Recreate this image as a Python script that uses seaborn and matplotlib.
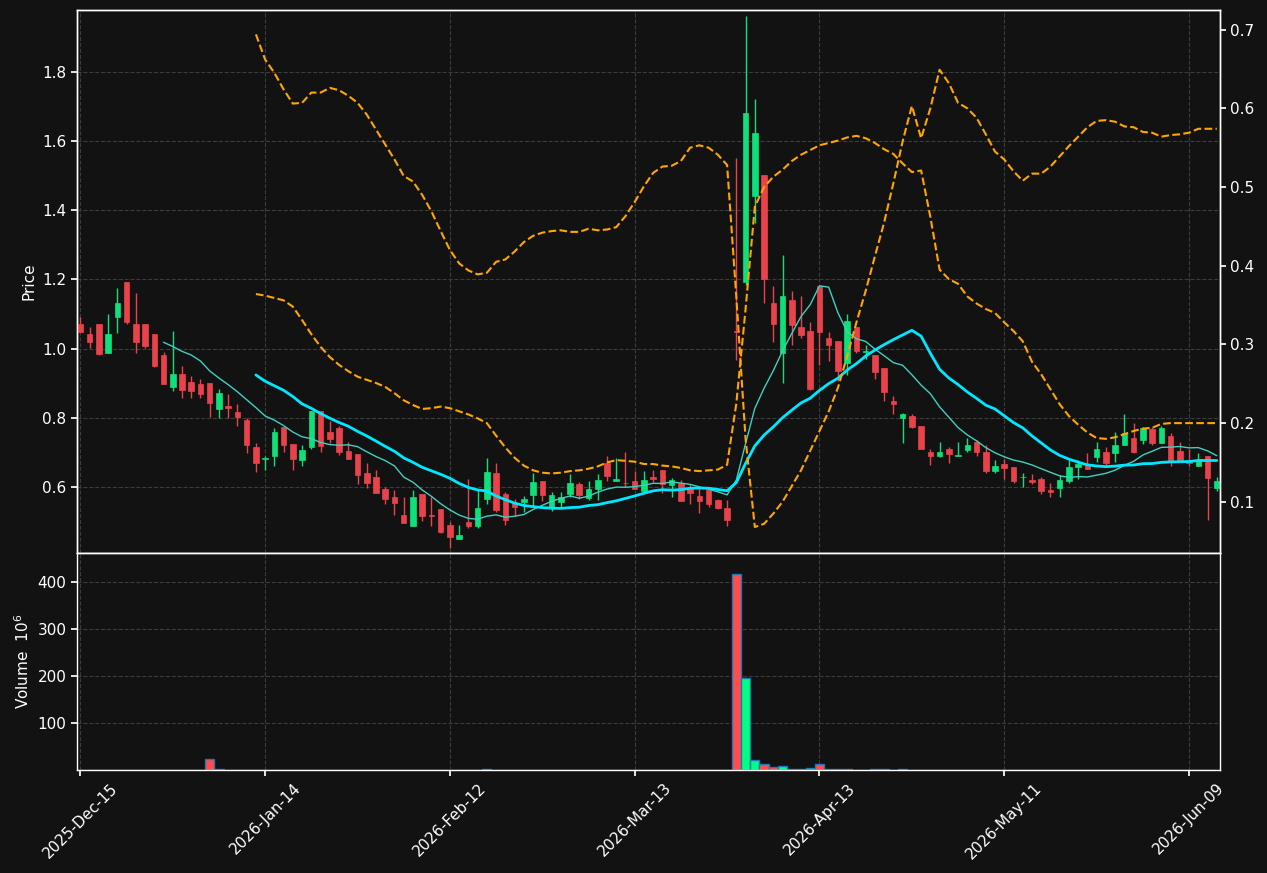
import numpy as np
import pandas as pd
import matplotlib
matplotlib.use('Agg')
import matplotlib.pyplot as plt
import seaborn as sns

# daily OHLC (trading-day index 0..123)
opens = [1.071, 1.042, 1.071, 0.988, 1.090, 1.193, 1.071, 1.071, 1.042, 0.982,
         0.890, 0.927, 0.904, 0.898, 0.901, 0.824, 0.835, 0.817, 0.794, 0.716,
         0.682, 0.688, 0.773, 0.724, 0.679, 0.716, 0.820, 0.759, 0.770, 0.704,
         0.695, 0.640, 0.629, 0.594, 0.571, 0.519, 0.488, 0.580, 0.518, 0.536,
         0.490, 0.450, 0.499, 0.488, 0.565, 0.640, 0.580, 0.552, 0.557, 0.577,
         0.617, 0.540, 0.557, 0.580, 0.609, 0.569, 0.594, 0.668, 0.617, 0.612,
         0.617, 0.588, 0.629, 0.649, 0.606, 0.611, 0.596, 0.574, 0.592, 0.562,
         0.539, 1.052, 1.191, 1.440, 1.502, 1.132, 0.988, 1.141, 1.062, 1.051,
         1.181, 1.030, 1.022, 0.959, 1.063, 0.990, 0.982, 0.944, 0.849, 0.800,
         0.805, 0.776, 0.700, 0.688, 0.710, 0.688, 0.707, 0.730, 0.700, 0.646,
         0.666, 0.658, 0.628, 0.621, 0.623, 0.591, 0.598, 0.617, 0.657, 0.666,
         0.687, 0.701, 0.699, 0.720, 0.741, 0.736, 0.768, 0.728, 0.747, 0.704,
         0.676, 0.659, 0.690, 0.598]
highs = [1.092, 1.062, 1.071, 1.099, 1.174, 1.193, 1.160, 1.071, 1.042, 0.989,
         1.051, 0.949, 0.920, 0.912, 0.901, 0.883, 0.868, 0.839, 0.798, 0.726,
         0.688, 0.770, 0.773, 0.724, 0.720, 0.820, 0.820, 0.790, 0.776, 0.729,
         0.695, 0.669, 0.649, 0.601, 0.592, 0.572, 0.590, 0.580, 0.572, 0.536,
         0.498, 0.489, 0.623, 0.591, 0.683, 0.668, 0.584, 0.566, 0.575, 0.639,
         0.617, 0.584, 0.584, 0.638, 0.615, 0.616, 0.638, 0.688, 0.683, 0.700,
         0.647, 0.647, 0.648, 0.649, 0.625, 0.620, 0.609, 0.596, 0.599, 0.565,
         0.562, 1.550, 1.962, 1.721, 1.502, 1.181, 1.271, 1.167, 1.152, 1.078,
         1.181, 1.049, 1.022, 1.100, 1.063, 1.009, 0.982, 0.944, 0.864, 0.813,
         0.810, 0.776, 0.710, 0.729, 0.716, 0.729, 0.742, 0.736, 0.720, 0.678,
         0.680, 0.658, 0.640, 0.637, 0.630, 0.610, 0.634, 0.680, 0.678, 0.697,
         0.729, 0.714, 0.760, 0.810, 0.784, 0.774, 0.774, 0.776, 0.755, 0.729,
         0.710, 0.697, 0.690, 0.628]
lows = [1.049, 1.001, 0.980, 0.988, 1.044, 1.070, 0.988, 1.001, 0.948, 0.898,
        0.878, 0.856, 0.858, 0.858, 0.803, 0.798, 0.798, 0.777, 0.697, 0.644,
        0.649, 0.659, 0.700, 0.648, 0.659, 0.709, 0.702, 0.726, 0.691, 0.682,
        0.608, 0.598, 0.581, 0.550, 0.518, 0.496, 0.488, 0.500, 0.488, 0.467,
        0.423, 0.448, 0.480, 0.480, 0.550, 0.528, 0.490, 0.517, 0.526, 0.545,
        0.560, 0.530, 0.542, 0.570, 0.565, 0.561, 0.562, 0.618, 0.617, 0.599,
        0.593, 0.580, 0.615, 0.582, 0.572, 0.560, 0.550, 0.524, 0.543, 0.537,
        0.488, 0.967, 1.185, 1.362, 1.131, 1.020, 0.900, 1.011, 1.030, 0.880,
        0.953, 0.965, 0.907, 0.924, 0.988, 0.969, 0.911, 0.849, 0.810, 0.728,
        0.769, 0.710, 0.662, 0.686, 0.670, 0.688, 0.700, 0.688, 0.639, 0.639,
        0.624, 0.611, 0.599, 0.608, 0.579, 0.572, 0.572, 0.612, 0.622, 0.652,
        0.671, 0.662, 0.671, 0.720, 0.699, 0.723, 0.720, 0.728, 0.659, 0.671,
        0.659, 0.659, 0.504, 0.588]
closes = [1.049, 1.020, 0.985, 1.042, 1.132, 1.078, 1.020, 1.008, 0.950, 0.898,
          0.927, 0.880, 0.878, 0.870, 0.844, 0.872, 0.829, 0.802, 0.721, 0.670,
          0.684, 0.759, 0.722, 0.682, 0.707, 0.820, 0.719, 0.739, 0.702, 0.682,
          0.633, 0.610, 0.583, 0.565, 0.554, 0.496, 0.571, 0.516, 0.516, 0.469,
          0.455, 0.461, 0.487, 0.540, 0.643, 0.533, 0.504, 0.543, 0.566, 0.614,
          0.577, 0.577, 0.570, 0.611, 0.577, 0.593, 0.620, 0.632, 0.623, 0.610,
          0.595, 0.620, 0.623, 0.607, 0.620, 0.560, 0.583, 0.560, 0.551, 0.540,
          0.505, 1.048, 1.680, 1.623, 1.200, 1.070, 1.152, 1.068, 1.040, 0.884,
          1.049, 1.009, 0.936, 1.080, 0.994, 0.993, 0.933, 0.873, 0.841, 0.810,
          0.773, 0.710, 0.688, 0.700, 0.695, 0.692, 0.721, 0.701, 0.646, 0.661,
          0.656, 0.617, 0.630, 0.615, 0.588, 0.586, 0.620, 0.657, 0.666, 0.652,
          0.709, 0.670, 0.720, 0.757, 0.701, 0.770, 0.728, 0.770, 0.673, 0.671,
          0.668, 0.678, 0.627, 0.617]
# volume in millions
volumes = [0.3, 0.3, 0.3, 0.3, 0.3, 0.3, 0.3, 0.3, 0.3, 0.3,
           0.3, 0.3, 0.3, 0.3, 23.0, 1.2, 0.3, 0.3, 0.3, 0.3,
           0.3, 0.3, 0.3, 0.3, 0.3, 0.3, 0.3, 0.3, 0.3, 0.3,
           0.3, 0.3, 0.3, 0.3, 0.3, 0.3, 0.3, 0.3, 0.3, 0.3,
           0.3, 0.3, 0.3, 0.3, 1.2, 0.3, 0.3, 0.3, 0.3, 0.3,
           0.3, 0.3, 0.3, 0.3, 0.3, 0.3, 0.3, 0.3, 0.3, 0.3,
           0.3, 0.3, 0.3, 0.3, 0.3, 0.3, 0.3, 0.3, 0.3, 0.3,
           0.3, 418.0, 196.0, 22.0, 13.0, 5.7, 7.9, 1.2, 1.2, 3.6,
           12.0, 1.2, 1.2, 1.2, 0.3, 0.3, 1.2, 1.2, 0.3, 1.2,
           0.3, 0.3, 0.3, 0.3, 0.3, 0.3, 0.3, 0.3, 0.3, 0.3,
           0.3, 0.3, 0.3, 0.3, 0.3, 0.3, 0.3, 0.3, 0.3, 0.3,
           0.3, 0.3, 0.3, 0.3, 0.3, 0.3, 0.3, 0.3, 0.3, 0.3,
           0.3, 0.3, 0.3, 0.3]

# two indicator lines on the secondary axis, from index 19 on
ind_start = 19
ind_a = [0.694, 0.662, 0.645, 0.624, 0.606, 0.607, 0.620, 0.620, 0.626, 0.623,
         0.616, 0.607, 0.592, 0.573, 0.554, 0.535, 0.514, 0.507, 0.490, 0.469,
         0.444, 0.420, 0.403, 0.394, 0.389, 0.391, 0.405, 0.408, 0.418, 0.430,
         0.438, 0.442, 0.444, 0.445, 0.443, 0.443, 0.447, 0.445, 0.446, 0.449,
         0.463, 0.481, 0.501, 0.518, 0.526, 0.527, 0.533, 0.550, 0.553, 0.550,
         0.541, 0.528, 0.360, 0.180, 0.068, 0.072, 0.085, 0.100, 0.120, 0.140,
         0.165, 0.190, 0.215, 0.245, 0.285, 0.328, 0.368, 0.412, 0.455, 0.505,
         0.558, 0.603, 0.562, 0.600, 0.649, 0.632, 0.607, 0.600, 0.588, 0.567,
         0.545, 0.535, 0.520, 0.508, 0.517, 0.517, 0.526, 0.539, 0.552, 0.564,
         0.576, 0.584, 0.585, 0.583, 0.577, 0.576, 0.570, 0.569, 0.564, 0.566,
         0.567, 0.569, 0.574, 0.574, 0.574]
ind_b = [0.364, 0.362, 0.359, 0.356, 0.348, 0.331, 0.313, 0.297, 0.284, 0.274,
         0.266, 0.259, 0.255, 0.251, 0.246, 0.238, 0.229, 0.223, 0.218, 0.219,
         0.221, 0.219, 0.215, 0.211, 0.206, 0.200, 0.184, 0.169, 0.156, 0.146,
         0.140, 0.137, 0.136, 0.137, 0.139, 0.140, 0.142, 0.145, 0.150, 0.153,
         0.152, 0.151, 0.148, 0.148, 0.146, 0.145, 0.143, 0.140, 0.139, 0.140,
         0.141, 0.147, 0.225, 0.345, 0.475, 0.500, 0.513, 0.522, 0.533, 0.541,
         0.547, 0.553, 0.556, 0.559, 0.563, 0.565, 0.562, 0.556, 0.548, 0.542,
         0.530, 0.519, 0.521, 0.462, 0.395, 0.383, 0.377, 0.361, 0.352, 0.345,
         0.340, 0.328, 0.317, 0.304, 0.278, 0.262, 0.243, 0.224, 0.209, 0.198,
         0.188, 0.181, 0.180, 0.182, 0.186, 0.190, 0.193, 0.194, 0.199, 0.200,
         0.200, 0.200, 0.200, 0.200, 0.200]

tick_pos = [0, 20, 40, 60, 80, 100, 120]
tick_labels = ['2025-Dec-15', '2026-Jan-14', '2026-Feb-12', '2026-Mar-13',
               '2026-Apr-13', '2026-May-11', '2026-Jun-09']

bg = '#121212'
up_c = '#0fe07a'
down_c = '#e8434b'
vol_up = '#00ff80'
vol_down = '#ff4d4d'

sns.set_theme(style='dark', rc={
    'axes.facecolor': bg, 'figure.facecolor': bg, 'axes.edgecolor': 'white',
    'text.color': 'white', 'axes.labelcolor': 'white',
    'xtick.color': 'white', 'ytick.color': 'white',
    'grid.color': '#3c3c3c', 'grid.linestyle': '--', 'grid.linewidth': 0.8,
    'xtick.bottom': True, 'ytick.left': True,
})
plt.rcParams['font.family'] = ['DejaVu Sans']

df = pd.DataFrame({'open': opens, 'high': highs, 'low': lows,
                   'close': closes, 'volume': volumes})
df['idx'] = np.arange(len(df))
df['up'] = df['close'] >= df['open']
df['ma10'] = df['close'].rolling(10).mean()
df['ma20'] = df['close'].rolling(20).mean()

ind = pd.DataFrame({'idx': np.arange(ind_start, ind_start + len(ind_a)),
                    'a': ind_a, 'b': ind_b})

fig = plt.figure(figsize=(12.67, 8.73), dpi=100)
ax = fig.add_axes([0.0608, 0.3666, 0.9021, 0.6220])
axv = fig.add_axes([0.0608, 0.1180, 0.9021, 0.2486], sharex=ax)

# candles
cols = np.where(df['up'], up_c, down_c)
ax.vlines(df['idx'], df['low'], df['high'], colors=cols, linewidth=1, zorder=2)
body_lo = np.minimum(df['open'], df['close'])
body_h = np.maximum((df['close'] - df['open']).abs(), 0.002)
ax.bar(df['idx'], body_h, bottom=body_lo, width=0.6, color=cols,
       edgecolor=cols, linewidth=0.5, zorder=3)

# moving averages
m10 = df.dropna(subset=['ma10'])
m20 = df.dropna(subset=['ma20'])
sns.lineplot(data=m10, x='idx', y='ma10', ax=ax, color='#40d0c0', linewidth=1, zorder=4)
sns.lineplot(data=m20, x='idx', y='ma20', ax=ax, color='#00e8ff', linewidth=2, zorder=4)

ax.set_xlim(-0.36, 123.35)
ax.set_ylim(0.409, 1.979)
ax.set_yticks([0.6, 0.8, 1.0, 1.2, 1.4, 1.6, 1.8])
ax.set_ylabel('Price', fontsize=11)
ax.set_xlabel('')
ax.grid(True)
ax.tick_params(axis='x', bottom=False, labelbottom=False)
ax.tick_params(axis='y', labelsize=11, length=4)

# secondary axis
ax2 = ax.twinx()
sns.lineplot(data=ind, x='idx', y='a', ax=ax2, color='orange', linewidth=1.5, linestyle='--')
sns.lineplot(data=ind, x='idx', y='b', ax=ax2, color='orange', linewidth=1.5, linestyle='--')
ax2.set_ylim(0.035, 0.725)
ax2.set_yticks([0.1, 0.2, 0.3, 0.4, 0.5, 0.6, 0.7])
ax2.set_ylabel('')
ax2.grid(False)
ax2.tick_params(axis='y', right=True, labelsize=11, length=4)

# volume
vcols = np.where(df['up'], vol_up, vol_down)
axv.bar(df['idx'], df['volume'], width=1.0, color=vcols, edgecolor='#1f77b4', linewidth=1)
axv.set_ylim(0, 462)
axv.set_yticks([100, 200, 300, 400])
axv.set_ylabel('Volume  $10^{6}$', fontsize=11)
axv.grid(True)
axv.set_xticks(tick_pos)
axv.set_xticklabels(tick_labels, rotation=45)
axv.tick_params(axis='x', labelsize=11, length=4)
axv.tick_params(axis='y', labelsize=11, length=4)

for a in (ax, ax2, axv):
    for s in a.spines.values():
        s.set_color('white')
        s.set_linewidth(1)

fig.savefig('out.png', dpi=100, facecolor=bg)
